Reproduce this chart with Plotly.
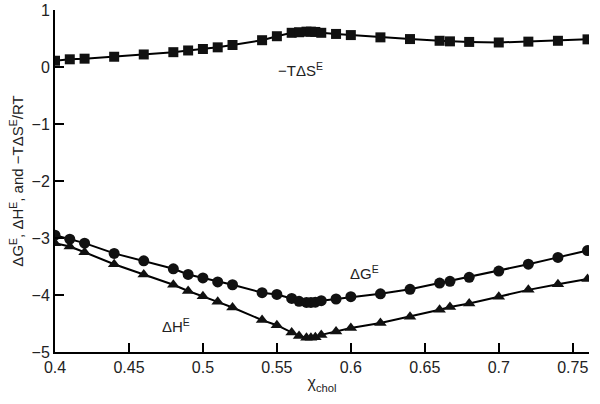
import plotly.graph_objects as go

x_chol = [0.40, 0.41, 0.42, 0.44, 0.46, 0.48, 0.49, 0.50, 0.51, 0.52, 0.54, 0.55,
          0.56, 0.565, 0.57, 0.573, 0.576, 0.58, 0.59, 0.60, 0.62, 0.64, 0.66, 0.667,
          0.68, 0.70, 0.72, 0.74, 0.76]
minus_TdS = [0.11, 0.135, 0.146, 0.18, 0.22, 0.26, 0.29, 0.316, 0.345, 0.386, 0.47, 0.54,
             0.60, 0.61, 0.62, 0.62, 0.615, 0.60, 0.58, 0.56, 0.52, 0.49, 0.46, 0.45,
             0.44, 0.43, 0.445, 0.46, 0.485]
dG = [-2.95, -3.02, -3.09, -3.27, -3.40, -3.54, -3.64, -3.70, -3.77, -3.82, -3.96, -3.99,
      -4.06, -4.11, -4.13, -4.13, -4.125, -4.10, -4.07, -4.03, -3.98, -3.90, -3.79, -3.76,
      -3.69, -3.58, -3.46, -3.34, -3.22]
dH = [-3.09, -3.15, -3.25, -3.46, -3.64, -3.82, -3.93, -4.02, -4.12, -4.22, -4.44, -4.53,
      -4.66, -4.72, -4.75, -4.75, -4.74, -4.70, -4.64, -4.58, -4.49, -4.38, -4.26, -4.21,
      -4.15, -4.03, -3.91, -3.81, -3.72]

font_family = "Liberation Sans, Arial, Helvetica, sans-serif"

fig = go.Figure()
fig.add_trace(go.Scatter(x=x_chol, y=minus_TdS, mode="lines+markers",
                         line=dict(color="black", width=2),
                         marker=dict(symbol="square", size=10, color="#111111")))
fig.add_trace(go.Scatter(x=x_chol, y=dG, mode="lines+markers",
                         line=dict(color="black", width=2),
                         marker=dict(symbol="circle", size=11, color="#111111")))
fig.add_trace(go.Scatter(x=x_chol, y=dH, mode="lines+markers",
                         line=dict(color="black", width=2),
                         marker=dict(symbol="triangle-up", size=11, color="#111111")))

ann_font = dict(family=font_family, size=15, color="#222222")
fig.add_annotation(x=0.566, y=-0.05, text="−TΔS<sup>E</sup>", showarrow=False, font=ann_font)
fig.add_annotation(x=0.609, y=-3.6, text="ΔG<sup>E</sup>", showarrow=False, font=ann_font)
fig.add_annotation(x=0.482, y=-4.53, text="ΔH<sup>E</sup>", showarrow=False, font=ann_font)

fig.update_layout(
    width=600, height=404,
    margin=dict(l=55, r=11, t=10, b=52),
    paper_bgcolor="white", plot_bgcolor="white",
    showlegend=False,
    font=dict(family=font_family, size=16, color="#222222"),
)
fig.update_xaxes(range=[0.4, 0.761], tick0=0.4, dtick=0.05, automargin=False,
                 showgrid=False, zeroline=False,
                 showline=True, linecolor="black", linewidth=2,
                 ticks="inside", ticklen=9, tickwidth=2, tickcolor="black",
                 tickfont=dict(size=16),
                 title=dict(text="χ<sub>chol</sub>", font=dict(size=16), standoff=2))
fig.update_yaxes(range=[-5, 1], dtick=1, automargin=False,
                 showgrid=False, zeroline=False,
                 showline=True, linecolor="black", linewidth=2,
                 ticks="inside", ticklen=9, tickwidth=2, tickcolor="black",
                 tickfont=dict(size=16),
                 title=dict(text="ΔG<sup>E</sup>, ΔH<sup>E</sup>, and −TΔS<sup>E</sup>/RT",
                            font=dict(size=15), standoff=4))

fig.write_html("out.html",
               config={"displayModeBar": False},
               post_script="document.body.style.margin='0';document.body.style.overflow='hidden';")
